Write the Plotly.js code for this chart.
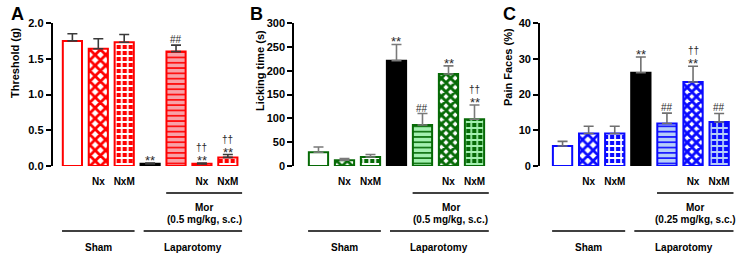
<!DOCTYPE html>
<html>
<head>
<meta charset="utf-8">
<script src="https://cdn.plot.ly/plotly-3.0.1.min.js"></script>
<style>html,body{margin:0;padding:0;background:#fff;}#chart{width:741px;height:258px;}</style>
</head>
<body>
<div id="chart"></div>
<script>
// ---------- data ----------
const positions = [0, 1, 2, 3, 4, 5, 6];
const tickLabels = ["", "Nx", "NxM", "", "", "Nx", "NxM"];
const groupLabels = ["Sham", "Laparotomy"];
const morLabel = "Mor";
const doseA = "(0.5 mg/kg, s.c.)";
const doseB = "(0.5 mg/kg, s.c.)";
const doseC = "(0.25 mg/kg, s.c.)";
const panelLetters = ["A", "B", "C"];
const yTitles = ["Threshold (g)", "Licking time (s)", "Pain Faces (%)"];

const thresholdMean = [1.75, 1.64, 1.73, 0.03, 1.60, 0.03, 0.12];
const thresholdSem  = [0.10, 0.14, 0.11, 0.01, 0.09, 0.01, 0.04];
const lickingMean   = [29, 12, 19, 221, 86, 193, 98];
const lickingSem    = [11, 3.5, 5, 34, 24, 17, 30];
const painMean      = [5.6, 9.1, 9.1, 26.1, 11.9, 23.5, 12.3];
const painSem       = [1.3, 2.0, 2.0, 4.4, 2.9, 4.4, 2.4];

// significance marks per bar (listed bottom to top)
const marksA = [[], [], [], ["**"], ["##"], ["**", "††"], ["**", "††"]];
const marksB = [[], [], [], ["**"], ["##"], ["**"], ["**", "††"]];
const marksC = [[], [], [], ["**"], ["##"], ["**", "††"], ["##"]];

// ---------- styling ----------
const FONT = "Liberation Sans, Arial, sans-serif";
const W = 741, H = 258;
const py = p => 1 - p / H;

const panels = [
  {mean: thresholdMean, sem: thresholdSem, marks: marksA, dose: doseA,
   dom: [52.7 / W, 243.4 / W], xr: [-0.76, 6.6], yr: [0, 2], dtick: 0.5, fmt: ".1f",
   dark: "#ff0000", light: "#f7a2a8", chk2: "#ffffff", err: "#3a3a3a",
   letterX: 17, titleX: 15, titleY: 63},
  {mean: lickingMean, sem: lickingSem, marks: marksB, dose: doseB,
   dom: [294.3 / W, 490.1 / W], xr: [-0.93, 6.6], yr: [0, 300], dtick: 50, fmt: "d",
   dark: "#066a06", light: "#a3f0b0", chk2: "#a3f0b0", err: "#7a7a7a",
   letterX: 256, titleX: 260, titleY: 71},
  {mean: painMean, sem: painSem, marks: marksC, dose: doseC,
   dom: [540.1 / W, 734.8 / W], xr: [-0.86, 6.6], yr: [0, 40], dtick: 10, fmt: "d",
   dark: "#0a0aff", light: "#b6cef8", chk2: "#b6cef8", err: "#707070",
   letterX: 510, titleX: 508, titleY: 67}
];

// per-bar style: [fill, line, patternShape, fg, bg, size, solidity]
function barStyle(p, k) {
  switch (k) {
    case 0: return {fill: "#ffffff", line: p.dark, shape: ""};
    case 1: return {fill: "#ffffff", line: p.dark, shape: "x", fg: p.dark, bg: "#ffffff", size: 7.5, sol: 0.6};
    case 2: return {fill: p.dark, line: p.dark, shape: "+", fg: "#ffffff", bg: p.dark, size: 6, sol: 0.5};
    case 3: return {fill: "#000000", line: "#000000", shape: ""};
    case 4: return {fill: p.light, line: p.dark, shape: "-", fg: p.dark, bg: p.light, size: 5.3, sol: 0.3};
    case 5: return {fill: "#ffffff", line: p.dark, shape: "x", fg: p.dark, bg: "#ffffff", size: 6.5, sol: 0.68};
    default: return {fill: p.dark, line: p.dark, shape: "+", fg: p.chk2, bg: p.dark, size: 6, sol: 0.5};
  }
}

const data = [];
const annotations = [];
const shapes = [];
const layout = {
  width: W, height: H,
  margin: {l: 0, r: 0, t: 0, b: 0},
  paper_bgcolor: "#ffffff", plot_bgcolor: "rgba(0,0,0,0)",
  showlegend: false, barmode: "overlay",
  font: {family: FONT, size: 10, color: "#000", weight: "bold"}
};

const yTop = py(23), yBot = py(166);

panels.forEach((p, i) => {
  const n = i === 0 ? "" : String(i + 1);
  const xa = "x" + n, ya = "y" + n;
  positions.forEach((pos, k) => {
    const s = barStyle(p, k);
    const marker = {color: s.fill, line: {color: s.line, width: 2}};
    if (s.shape) {
      marker.pattern = {shape: s.shape, fgcolor: s.fg, bgcolor: s.bg, size: s.size,
                        solidity: s.sol, fgopacity: 1, fillmode: "replace"};
    }
    data.push({
      type: "bar", x: [pos], y: [p.mean[k]], xaxis: xa, yaxis: ya,
      width: 0.74, marker: marker,
      error_y: {type: "data", array: [p.sem[k]], arrayminus: [0], symmetric: false,
                color: p.err, thickness: 1.6, width: 5},
      hoverinfo: "skip"
    });
  });
  layout["xaxis" + n] = {
    domain: p.dom, range: p.xr, anchor: ya,
    tickvals: positions, ticktext: tickLabels, ticks: "", ticklabelstandoff: 8,
    showline: false, showgrid: false, zeroline: false,
    tickfont: {family: FONT, size: 10, weight: "bold", color: "#000"}, fixedrange: true
  };
  layout["yaxis" + n] = {
    domain: [yBot, yTop], range: p.yr, anchor: xa, dtick: p.dtick, tick0: 0, tickformat: p.fmt,
    showline: true, linecolor: "#000", linewidth: 2, ticks: "outside", ticklen: 5, tickwidth: 2,
    tickcolor: "#000", showgrid: false, zeroline: false,
    tickfont: {family: FONT, size: 11, weight: "bold", color: "#000"}, fixedrange: true
  };

  const toPX = xv => p.dom[0] + (xv - p.xr[0]) / (p.xr[1] - p.xr[0]) * (p.dom[1] - p.dom[0]);

  // significance marks
  p.marks.forEach((list, k) => {
    list.forEach((m, j) => {
      const star = m.indexOf("*") >= 0;
      const want = 6 + j * 10;
      annotations.push({
        x: positions[k], y: p.mean[k] + p.sem[k], xref: xa, yref: ya,
        text: m, showarrow: false, xanchor: "center", yanchor: "middle",
        yshift: want - (star ? 3.5 : 0.5),
        font: {family: FONT, size: star ? 13 : 10, color: "#2a2a2a", weight: "normal"}
      });
    });
  });

  // group brackets
  const morL = toPX(3.62), morR = toPX(6.55);
  const shamL = toPX(-0.4), shamR = toPX(2.4);
  const lapL = toPX(2.75), lapR = toPX(6.55);
  [[morL, morR, 193], [shamL, shamR, 231], [lapL, lapR, 231]].forEach(s => {
    shapes.push({type: "line", xref: "paper", yref: "paper", x0: s[0], x1: s[1],
                 y0: py(s[2]), y1: py(s[2]), line: {color: "#000", width: 1.5}});
  });
  const txt = (x, y, t) => annotations.push({xref: "paper", yref: "paper", x: x, y: py(y), text: t,
                    showarrow: false, xanchor: "center", yanchor: "middle",
                    font: {family: FONT, size: 10, weight: "bold", color: "#000"}});
  txt((morL + morR) / 2, 207, morLabel);
  txt((morL + morR) / 2, 219, p.dose);
  txt((shamL + shamR) / 2, 247, groupLabels[0]);
  txt((lapL + lapR) / 2, 247, groupLabels[1]);
  // panel letter
  annotations.push({xref: "paper", yref: "paper", x: p.letterX / W, y: py(14), text: panelLetters[i],
                    showarrow: false, xanchor: "center", yanchor: "middle",
                    font: {family: FONT, size: 18, weight: "bold", color: "#000"}});
  // y title
  annotations.push({xref: "paper", yref: "paper", x: p.titleX / W, y: py(p.titleY), text: yTitles[i],
                    showarrow: false, xanchor: "center", yanchor: "middle", textangle: -90,
                    font: {family: FONT, size: 11, weight: "bold", color: "#000"}});
});

layout.annotations = annotations;
layout.shapes = shapes;

Plotly.newPlot("chart", data, layout, {displayModeBar: false, staticPlot: true});
</script>
</body>
</html>
